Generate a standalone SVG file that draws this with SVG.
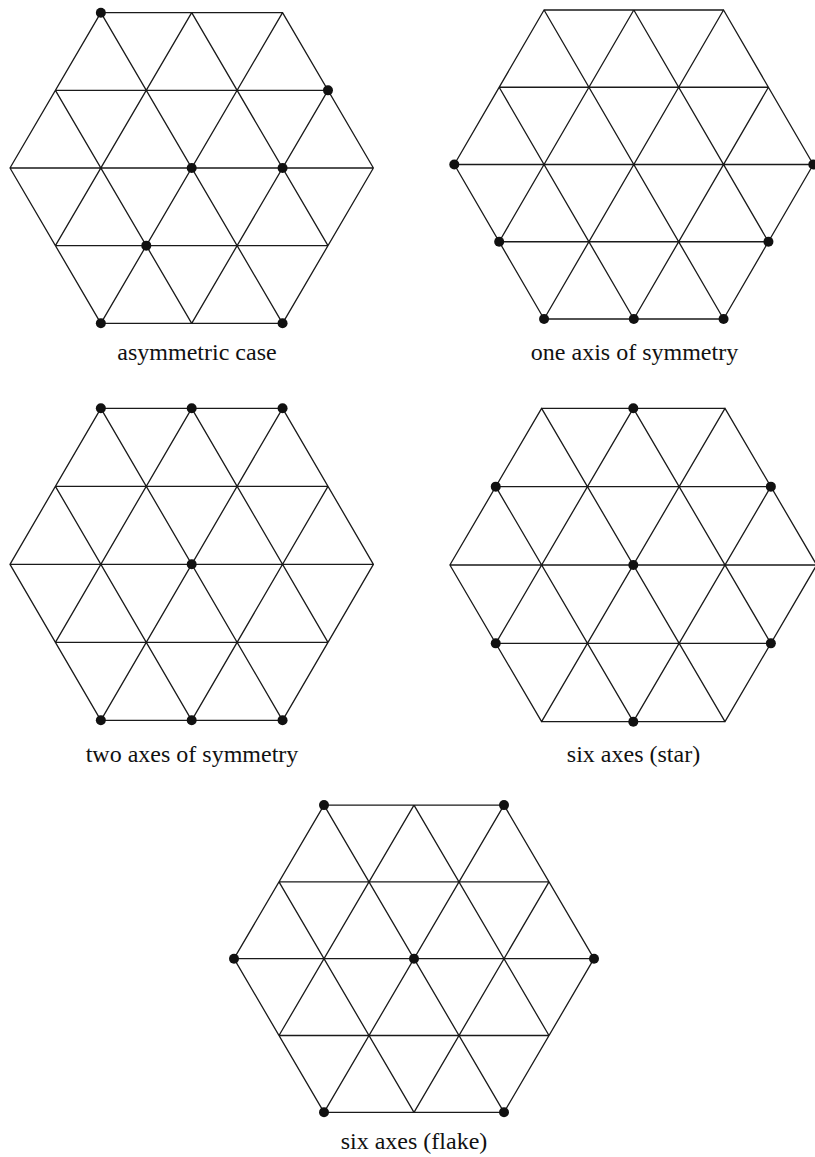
<svg xmlns="http://www.w3.org/2000/svg" width="815" height="1157" viewBox="0 0 815 1157">
<style>
.grid{fill:none;stroke:#1a1a1a;stroke-width:1.3;stroke-linecap:round}
.dot{fill:#111}
.lbl{font-family:"Liberation Serif","DejaVu Serif",serif;font-size:24px;fill:#111;text-anchor:middle}
</style>
<rect width="815" height="1157" fill="#fff"/>
<g id="hex-asymmetric">
<path class="grid" d="M100.85 12.7H282.55M55.42 90.35H327.98M10 168H373.4M55.42 245.65H327.98M100.85 323.3H282.55M10 168L100.85 12.7M55.42 245.65L191.7 12.7M100.85 323.3L282.55 12.7M191.7 323.3L327.98 90.35M282.55 323.3L373.4 168M373.4 168L282.55 12.7M327.98 245.65L191.7 12.7M282.55 323.3L100.85 12.7M191.7 323.3L55.42 90.35M100.85 323.3L10 168"/>
<circle class="dot" cx="100.85" cy="12.7" r="5"/>
<circle class="dot" cx="327.98" cy="90.35" r="5"/>
<circle class="dot" cx="191.7" cy="168" r="5"/>
<circle class="dot" cx="282.55" cy="168" r="5"/>
<circle class="dot" cx="146.27" cy="245.65" r="5"/>
<circle class="dot" cx="100.85" cy="323.3" r="5"/>
<circle class="dot" cx="282.55" cy="323.3" r="5"/>
<text class="lbl" x="197" y="360">asymmetric case</text>
</g>
<g id="hex-one-axis">
<path class="grid" d="M544.05 10H723.55M499.18 87.25H768.43M454.3 164.5H813.3M499.18 241.75H768.43M544.05 319H723.55M454.3 164.5L544.05 10M499.18 241.75L633.8 10M544.05 319L723.55 10M633.8 319L768.43 87.25M723.55 319L813.3 164.5M813.3 164.5L723.55 10M768.43 241.75L633.8 10M723.55 319L544.05 10M633.8 319L499.18 87.25M544.05 319L454.3 164.5"/>
<circle class="dot" cx="454.3" cy="164.5" r="5"/>
<circle class="dot" cx="813.3" cy="164.5" r="5"/>
<circle class="dot" cx="499.18" cy="241.75" r="5"/>
<circle class="dot" cx="768.43" cy="241.75" r="5"/>
<circle class="dot" cx="544.05" cy="319" r="5"/>
<circle class="dot" cx="633.8" cy="319" r="5"/>
<circle class="dot" cx="723.55" cy="319" r="5"/>
<text class="lbl" x="634.5" y="360">one axis of symmetry</text>
</g>
<g id="hex-two-axes">
<path class="grid" d="M100.85 408.3H282.55M55.42 486.3H327.98M10 564.3H373.4M55.42 642.3H327.98M100.85 720.3H282.55M10 564.3L100.85 408.3M55.42 642.3L191.7 408.3M100.85 720.3L282.55 408.3M191.7 720.3L327.98 486.3M282.55 720.3L373.4 564.3M373.4 564.3L282.55 408.3M327.98 642.3L191.7 408.3M282.55 720.3L100.85 408.3M191.7 720.3L55.42 486.3M100.85 720.3L10 564.3"/>
<circle class="dot" cx="100.85" cy="408.3" r="5"/>
<circle class="dot" cx="191.7" cy="408.3" r="5"/>
<circle class="dot" cx="282.55" cy="408.3" r="5"/>
<circle class="dot" cx="191.7" cy="564.3" r="5"/>
<circle class="dot" cx="100.85" cy="720.3" r="5"/>
<circle class="dot" cx="191.7" cy="720.3" r="5"/>
<circle class="dot" cx="282.55" cy="720.3" r="5"/>
<text class="lbl" x="192" y="762">two axes of symmetry</text>
</g>
<g id="hex-star">
<path class="grid" d="M541.6 408.3H725M495.75 486.65H770.85M449.9 565H816.7M495.75 643.35H770.85M541.6 721.7H725M449.9 565L541.6 408.3M495.75 643.35L633.3 408.3M541.6 721.7L725 408.3M633.3 721.7L770.85 486.65M725 721.7L816.7 565M816.7 565L725 408.3M770.85 643.35L633.3 408.3M725 721.7L541.6 408.3M633.3 721.7L495.75 486.65M541.6 721.7L449.9 565"/>
<circle class="dot" cx="633.3" cy="408.3" r="5"/>
<circle class="dot" cx="495.75" cy="486.65" r="5"/>
<circle class="dot" cx="770.85" cy="486.65" r="5"/>
<circle class="dot" cx="633.3" cy="565" r="5"/>
<circle class="dot" cx="495.75" cy="643.35" r="5"/>
<circle class="dot" cx="770.85" cy="643.35" r="5"/>
<circle class="dot" cx="633.3" cy="721.7" r="5"/>
<text class="lbl" x="633.5" y="762">six axes (star)</text>
</g>
<g id="hex-flake">
<path class="grid" d="M324 805.1H504M279 881.9H549M234 958.7H594M279 1035.5H549M324 1112.3H504M234 958.7L324 805.1M279 1035.5L414 805.1M324 1112.3L504 805.1M414 1112.3L549 881.9M504 1112.3L594 958.7M594 958.7L504 805.1M549 1035.5L414 805.1M504 1112.3L324 805.1M414 1112.3L279 881.9M324 1112.3L234 958.7"/>
<circle class="dot" cx="324" cy="805.1" r="5"/>
<circle class="dot" cx="504" cy="805.1" r="5"/>
<circle class="dot" cx="234" cy="958.7" r="5"/>
<circle class="dot" cx="414" cy="958.7" r="5"/>
<circle class="dot" cx="594" cy="958.7" r="5"/>
<circle class="dot" cx="324" cy="1112.3" r="5"/>
<circle class="dot" cx="504" cy="1112.3" r="5"/>
<text class="lbl" x="414" y="1148.5">six axes (flake)</text>
</g>
</svg>
